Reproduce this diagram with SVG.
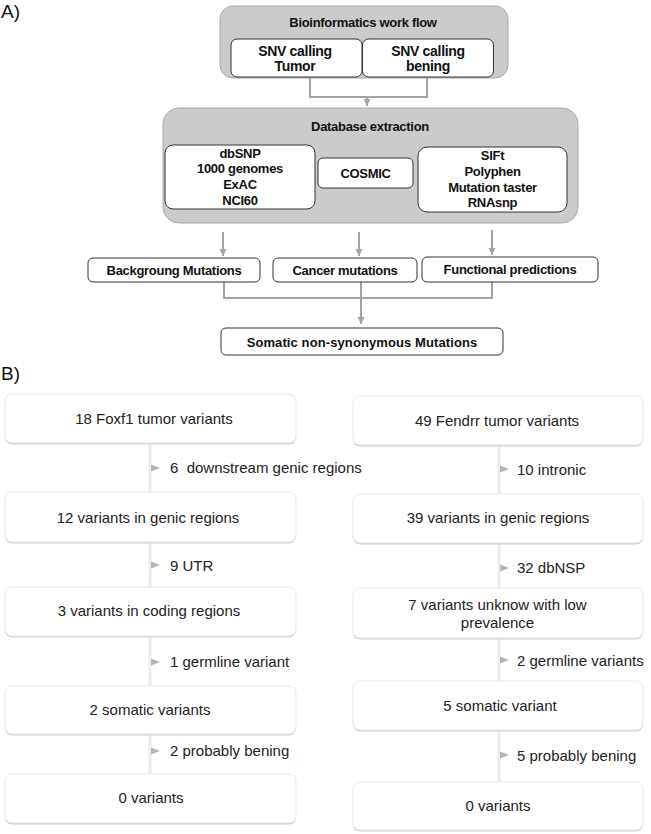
<svg xmlns="http://www.w3.org/2000/svg" width="651" height="834" viewBox="0 0 651 834">
<style>
.bg{fill:#fff}
.grey{fill:#cbcbcb;stroke:#a9a9a9;stroke-width:1}
.wbox{fill:#fff;stroke:#333;stroke-width:1}
.ta{font-family:"Liberation Sans",Arial,sans-serif;font-weight:bold;font-size:13px;letter-spacing:-0.3px;fill:#111;text-anchor:middle}
.lbl{font-family:"Liberation Sans",Arial,sans-serif;font-size:19px;fill:#111}
.tb{font-family:"Liberation Sans",Arial,sans-serif;font-size:15px;fill:#222;text-anchor:middle}
.tl{font-family:"Liberation Sans",Arial,sans-serif;font-size:15px;fill:#222}
.shadow{fill:#cfcfcf}
.bbox{fill:#fff;stroke:#e8e8e8;stroke-width:1}
.conA{fill:none;stroke:#a3a3a3;stroke-width:2}
.conB{fill:none;stroke:#ececec;stroke-width:3}
.tri{fill:#b5b5b5}
</style>
<defs>
<marker id="ah" markerUnits="userSpaceOnUse" markerWidth="8" markerHeight="8" refX="7" refY="4" orient="auto">
<path d="M0,0.5 L7,4 L0,7.5 z" fill="#a3a3a3"/>
</marker>
</defs>
<rect class="bg" x="0" y="0" width="651" height="834"/>

<text class="lbl" x="1" y="18">A)</text>
<text class="lbl" x="1" y="380">B)</text>

<!-- Part A connectors -->
<g id="connectors-a">
<path class="conA" d="M310,77 V97 H427 V77"/>
<line class="conA" x1="367" y1="97" x2="367" y2="106" marker-end="url(#ah)"/>
<line class="conA" x1="223" y1="232" x2="223" y2="256" marker-end="url(#ah)"/>
<line class="conA" x1="359" y1="232" x2="359" y2="256" marker-end="url(#ah)"/>
<line class="conA" x1="492" y1="230" x2="492" y2="255" marker-end="url(#ah)"/>
<path class="conA" d="M224,282 V298 H492 V282 M361,282 V298"/>
<line class="conA" x1="361" y1="298" x2="361" y2="324" marker-end="url(#ah)"/>
</g>

<g id="bio">
<rect class="grey" x="220" y="6" width="288" height="72" rx="13"/>
<text class="ta" x="363" y="27">Bioinformatics work flow</text>
</g>
<g id="snv-tumor">
<rect class="wbox" x="231" y="39" width="131" height="38" rx="6"/>
<text class="ta" x="295" y="56" style="font-size:14px">SNV calling</text>
<text class="ta" x="295" y="71" style="font-size:14px">Tumor</text>
</g>
<g id="snv-bening">
<rect class="wbox" x="362.5" y="39" width="131" height="38" rx="6"/>
<text class="ta" x="428" y="56" style="font-size:14px">SNV calling</text>
<text class="ta" x="428" y="71" style="font-size:14px">bening</text>
</g>

<g id="db">
<rect class="grey" x="163" y="108" width="415" height="115" rx="16"/>
<text class="ta" x="370" y="131">Database extraction</text>
</g>
<g id="dbsnp">
<rect class="wbox" x="165" y="145" width="150" height="64" rx="8"/>
<text class="ta" x="240" y="158">dbSNP</text>
<text class="ta" x="240" y="173">1000 genomes</text>
<text class="ta" x="240" y="189">ExAC</text>
<text class="ta" x="240" y="205">NCI60</text>
</g>
<g id="cosmic">
<rect class="wbox" x="318" y="158" width="95" height="30" rx="5"/>
<text class="ta" x="365.5" y="178">COSMIC</text>
</g>
<g id="sift">
<rect class="wbox" x="418" y="147" width="149" height="65" rx="9"/>
<text class="ta" x="492.5" y="160">SIFt</text>
<text class="ta" x="492.5" y="176">Polyphen</text>
<text class="ta" x="492.5" y="192">Mutation taster</text>
<text class="ta" x="492.5" y="207">RNAsnp</text>
</g>

<g id="background">
<rect class="wbox" x="88" y="258" width="172" height="24" rx="5"/>
<text class="ta" x="174" y="275">Backgroung Mutations</text>
</g>
<g id="cancer">
<rect class="wbox" x="273" y="258" width="144" height="24" rx="5"/>
<text class="ta" x="345" y="275">Cancer mutations</text>
</g>
<g id="functional">
<rect class="wbox" x="422" y="257" width="176" height="25" rx="5"/>
<text class="ta" x="510" y="274">Functional predictions</text>
</g>
<g id="somatic">
<rect class="wbox" x="221" y="328" width="282" height="27" rx="5"/>
<text class="ta" x="362" y="347" style="letter-spacing:0.1px">Somatic non-synonymous Mutations</text>
</g>

<!-- Part B connectors -->
<g id="connectors-b">
<line class="conB" x1="150" y1="443" x2="150" y2="774"/>
<line class="conB" x1="499" y1="445" x2="499" y2="782"/>
<polygon class="tri" points="151,464.5 160,468 151,471.5"/>
<polygon class="tri" points="151,561.5 160,565 151,568.5"/>
<polygon class="tri" points="151,658.5 160,662 151,665.5"/>
<polygon class="tri" points="151,747.5 160,751 151,754.5"/>
<polygon class="tri" points="500,465.5 509,469 500,472.5"/>
<polygon class="tri" points="500,564.5 509,568 500,571.5"/>
<polygon class="tri" points="500,656.5 509,660 500,663.5"/>
<polygon class="tri" points="500,751.5 509,755 500,758.5"/>
<text class="tl" x="170" y="473" xml:space="preserve">6  downstream genic regions</text>
<text class="tl" x="170" y="571">9 UTR</text>
<text class="tl" x="170" y="667">1 germline variant</text>
<text class="tl" x="170" y="756">2 probably bening</text>
<text class="tl" x="517" y="475">10 intronic</text>
<text class="tl" x="517" y="573">32 dbNSP</text>
<text class="tl" x="517" y="666">2 germline variants</text>
<text class="tl" x="517" y="761">5 probably bening</text>
</g>

<g id="l1"><rect class="shadow" x="5" y="395.5" width="291" height="49" rx="7"/><rect class="bbox" x="5" y="394" width="291" height="49" rx="7"/><text class="tb" x="154" y="424">18 Foxf1 tumor variants</text></g>
<g id="l2"><rect class="shadow" x="5" y="493.5" width="291" height="50" rx="7"/><rect class="bbox" x="5" y="492" width="291" height="50" rx="7"/><text class="tb" x="148" y="523">12 variants in genic regions</text></g>
<g id="l3"><rect class="shadow" x="5" y="588.5" width="291" height="49" rx="7"/><rect class="bbox" x="5" y="587" width="291" height="49" rx="7"/><text class="tb" x="149" y="616">3 variants in coding regions</text></g>
<g id="l4"><rect class="shadow" x="5" y="687.5" width="291" height="48" rx="7"/><rect class="bbox" x="5" y="686" width="291" height="48" rx="7"/><text class="tb" x="150" y="715">2 somatic variants</text></g>
<g id="l5"><rect class="shadow" x="5" y="775.5" width="291" height="49" rx="7"/><rect class="bbox" x="5" y="774" width="291" height="49" rx="7"/><text class="tb" x="151" y="803">0 variants</text></g>

<g id="r1"><rect class="shadow" x="353" y="397.5" width="290" height="49" rx="7"/><rect class="bbox" x="353" y="396" width="290" height="49" rx="7"/><text class="tb" x="497" y="426">49 Fendrr tumor variants</text></g>
<g id="r2"><rect class="shadow" x="353" y="495.5" width="290" height="49" rx="7"/><rect class="bbox" x="353" y="494" width="290" height="49" rx="7"/><text class="tb" x="498" y="523">39 variants in genic regions</text></g>
<g id="r3"><rect class="shadow" x="353" y="589.5" width="290" height="50" rx="7"/><rect class="bbox" x="353" y="588" width="290" height="50" rx="7"/><text class="tb" x="497.5" y="610">7 variants unknow with low</text><text class="tb" x="497.5" y="628">prevalence</text></g>
<g id="r4"><rect class="shadow" x="353" y="682.5" width="290" height="49" rx="7"/><rect class="bbox" x="353" y="681" width="290" height="49" rx="7"/><text class="tb" x="500" y="711">5 somatic variant</text></g>
<g id="r5"><rect class="shadow" x="353" y="783.5" width="290" height="48" rx="7"/><rect class="bbox" x="353" y="782" width="290" height="48" rx="7"/><text class="tb" x="498" y="811">0 variants</text></g>
</svg>
